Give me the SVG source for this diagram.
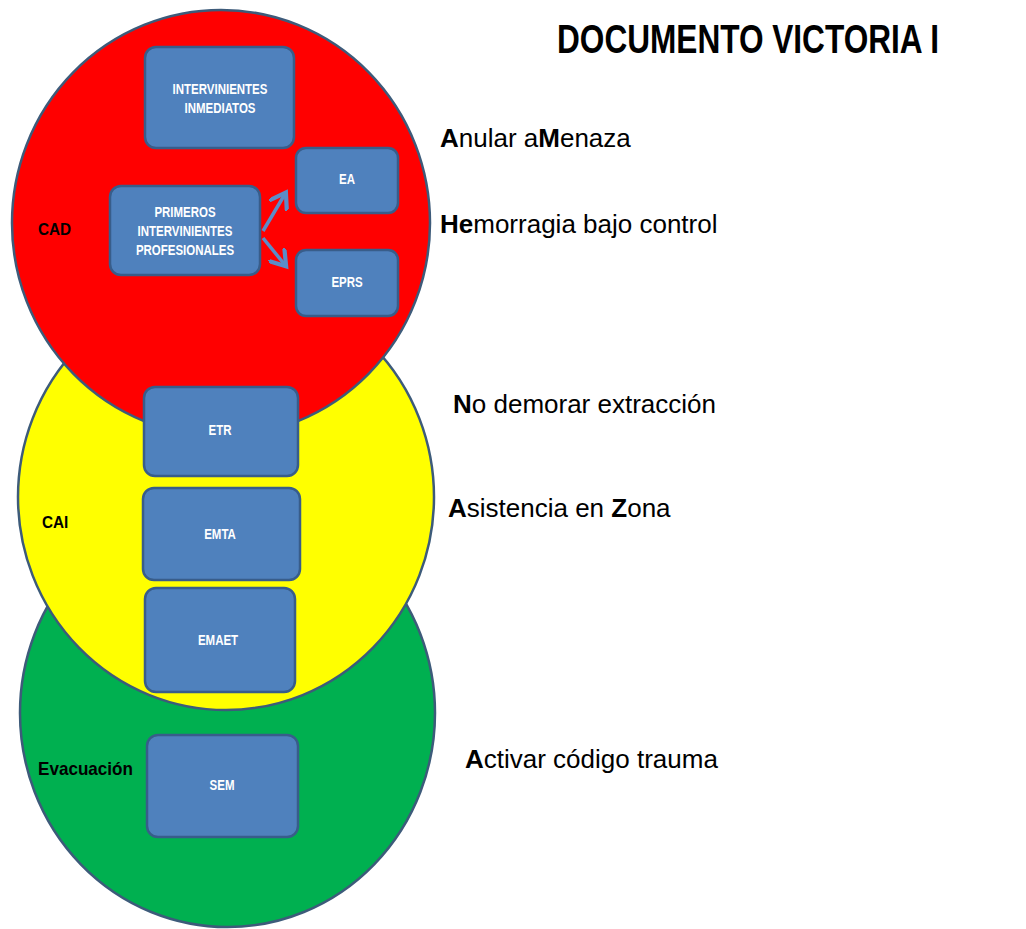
<svg xmlns="http://www.w3.org/2000/svg" width="1026" height="929" viewBox="0 0 1026 929">
<style>
.zone{stroke:#3d5b7a;stroke-width:2.5}
.box{fill:#4f81bd;stroke:#385d8a;stroke-width:2.5}
.bl{font-family:"Liberation Sans",Arial,sans-serif;font-weight:bold;font-size:14px;fill:#ffffff;text-anchor:middle}
.zl{font-family:"Liberation Sans",Arial,sans-serif;font-weight:bold;font-size:17px;fill:#000000}
.rt{font-family:"Liberation Sans",Arial,sans-serif;font-size:26px;fill:#000000}
.b{font-weight:bold}
.title{font-family:"Liberation Sans",Arial,sans-serif;font-weight:bold;font-size:40px;fill:#000000}
.conn{stroke:#5b8cc8;stroke-width:3.5;fill:none}
</style>
<defs>
<marker id="ah" markerWidth="6" markerHeight="6" refX="4" refY="3" orient="auto" markerUnits="strokeWidth">
<path d="M0,0 L4.5,3 L0,6" fill="none" stroke="#5b8cc8" stroke-width="1.2"/>
</marker>
</defs>
<rect width="1026" height="929" fill="#ffffff"/>
<g id="zone-evacuacion">
<ellipse class="zone" cx="227.5" cy="713" rx="207.5" ry="214" fill="#00b050"/>
</g>
<g id="zone-cai">
<ellipse class="zone" cx="226" cy="497" rx="208" ry="213" fill="#ffff00"/>
</g>
<g id="zone-cad">
<ellipse class="zone" cx="221" cy="223" rx="209" ry="213" fill="#ff0000"/>
</g>
<text class="zl" transform="translate(38,235) scale(0.9,1)">CAD</text>
<text class="zl" transform="translate(42,528) scale(0.9,1)">CAI</text>
<text class="zl" transform="translate(38,775) scale(0.95,1)" style="font-size:18px">Evacuación</text>
<g id="connectors">
<line class="conn" x1="263" y1="231" x2="285" y2="194" marker-end="url(#ah)"/>
<line class="conn" x1="263" y1="238" x2="285" y2="265" marker-end="url(#ah)"/>
</g>
<g id="n-inmediatos">
<rect class="box" x="145" y="47" width="149" height="101" rx="11"/>
<text class="bl" transform="translate(220,94) scale(0.82,1)">INTERVINIENTES</text>
<text class="bl" transform="translate(220,113) scale(0.82,1)">INMEDIATOS</text>
</g>
<g id="n-ea">
<rect class="box" x="296" y="148" width="102" height="65" rx="10"/>
<text class="bl" transform="translate(347,184) scale(0.82,1)">EA</text>
</g>
<g id="n-primeros">
<rect class="box" x="110" y="186" width="150" height="89" rx="11"/>
<text class="bl" transform="translate(185,217) scale(0.82,1)">PRIMEROS</text>
<text class="bl" transform="translate(185,236) scale(0.82,1)">INTERVINIENTES</text>
<text class="bl" transform="translate(185,255) scale(0.82,1)">PROFESIONALES</text>
</g>
<g id="n-eprs">
<rect class="box" x="296" y="250" width="102" height="66" rx="10"/>
<text class="bl" transform="translate(347,287) scale(0.82,1)">EPRS</text>
</g>
<g id="n-etr">
<rect class="box" x="144" y="387" width="154" height="89" rx="11"/>
<text class="bl" transform="translate(220,435) scale(0.82,1)">ETR</text>
</g>
<g id="n-emta">
<rect class="box" x="143" y="488" width="157" height="92" rx="11"/>
<text class="bl" transform="translate(220,539) scale(0.82,1)">EMTA</text>
</g>
<g id="n-emaet">
<rect class="box" x="145" y="588" width="150" height="104" rx="11"/>
<text class="bl" transform="translate(218,645) scale(0.82,1)">EMAET</text>
</g>
<g id="n-sem">
<rect class="box" x="147" y="735" width="151" height="102" rx="11"/>
<text class="bl" transform="translate(222,790) scale(0.82,1)">SEM</text>
</g>
<text class="title" transform="translate(557,53) scale(0.79,1)">DOCUMENTO VICTORIA I</text>
<text class="rt" x="440" y="147"><tspan class="b">A</tspan>nular a<tspan class="b">M</tspan>enaza</text>
<text class="rt" x="440" y="233"><tspan class="b">He</tspan>morragia bajo control</text>
<text class="rt" x="453" y="413"><tspan class="b">N</tspan>o demorar extracción</text>
<text class="rt" x="448" y="517"><tspan class="b">A</tspan>sistencia en <tspan class="b">Z</tspan>ona</text>
<text class="rt" x="465" y="768"><tspan class="b">A</tspan>ctivar código trauma</text>
</svg>
